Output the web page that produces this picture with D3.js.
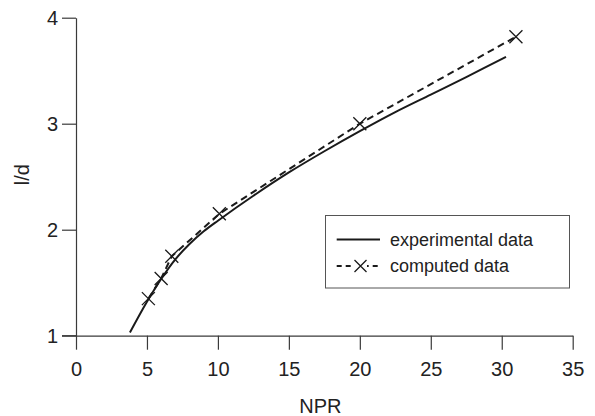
<!DOCTYPE html>
<html>
<head>
<meta charset="utf-8">
<script src="https://cdn.jsdelivr.net/npm/d3@7"></script>
<style>
  html, body { margin: 0; padding: 0; background: #fff; }
  svg { display: block; font-family: "Liberation Sans", Arial, Helvetica, sans-serif; }
</style>
</head>
<body>
<svg id="chart" width="595" height="416"></svg>
<script>
// Measured nozzle length ratio against pressure ratio
const experimentalNPR = [3.8, 5, 6, 7, 8, 9, 10, 12.5, 15, 17.5, 20, 22.5, 25, 27.5, 30.3];
const experimentalLD  = [1.03, 1.32, 1.535, 1.72, 1.865, 1.985, 2.085, 2.32, 2.54, 2.74, 2.93, 3.11, 3.275, 3.44, 3.63];

// Computed points (marked with crosses)
const computedNPR = [5.1, 6.0, 6.75, 10.1, 20.0, 31.0];
const computedLD  = [1.35, 1.54, 1.75, 2.15, 3.0, 3.82];

const xTicks = [0, 5, 10, 15, 20, 25, 30, 35];
const yTicks = [1, 2, 3, 4];
const legendLabels = ["experimental data", "computed data"];

const svg = d3.select("#chart");
const x = d3.scaleLinear().domain([0, 35]).range([76, 572.7]);
const y = d3.scaleLinear().domain([1, 4]).range([335.7, 17.7]);

const axisColor = "#3a3a3a";
const inkColor = "#1a1a1a";
const labelFont = "Liberation Sans, Arial, sans-serif";

// Y axis
const yAxis = svg.append("g")
  .attr("transform", `translate(${x(0)},0)`)
  .call(d3.axisLeft(y).tickValues(yTicks).tickSize(14).tickSizeOuter(0).tickPadding(4).tickFormat(d3.format("d")));
yAxis.select(".domain").attr("stroke", axisColor).attr("stroke-width", 1.2);
yAxis.selectAll(".tick line").attr("stroke", axisColor).attr("stroke-width", 1.2);
yAxis.selectAll(".tick text").attr("font-size", 20).attr("fill", "#222").attr("font-family", labelFont);

// X axis
const xAxis = svg.append("g")
  .attr("transform", `translate(0,${y(1)})`)
  .call(d3.axisBottom(x).tickValues(xTicks).tickSize(14).tickSizeOuter(0).tickPadding(12).tickFormat(d3.format("d")));
xAxis.select(".domain").attr("stroke", axisColor).attr("stroke-width", 1.2);
xAxis.selectAll(".tick line").attr("stroke", axisColor).attr("stroke-width", 1.2);
xAxis.selectAll(".tick text").attr("font-size", 20).attr("fill", "#222").attr("font-family", labelFont);

// X-axis extension to the left where the y=1 tick sits
svg.append("line")
  .attr("x1", x(0) - 14).attr("x2", x(0))
  .attr("y1", y(1)).attr("y2", y(1))
  .attr("stroke", axisColor).attr("stroke-width", 1.2);

// Axis titles
svg.append("text")
  .attr("x", (x(0) + x(35)) / 2 - 4).attr("y", 412.5)
  .attr("text-anchor", "middle").attr("font-size", 20).attr("fill", "#222")
  .text("NPR");
svg.append("text")
  .attr("transform", `translate(29,${y(2.5) - 2}) rotate(-90)`)
  .attr("text-anchor", "middle").attr("font-size", 20).attr("fill", "#222")
  .text("l/d");

// Experimental curve
const expData = experimentalNPR.map((v, i) => [v, experimentalLD[i]]);
svg.append("path")
  .datum(expData)
  .attr("fill", "none").attr("stroke", inkColor).attr("stroke-width", 2)
  .attr("d", d3.line().x(d => x(d[0])).y(d => y(d[1])).curve(d3.curveCatmullRom.alpha(0.5)));

// Computed line
const compData = computedNPR.map((v, i) => [v, computedLD[i]]);
svg.append("path")
  .datum(compData)
  .attr("fill", "none").attr("stroke", inkColor).attr("stroke-width", 2)
  .attr("stroke-dasharray", "7,4.5")
  .attr("d", d3.line().x(d => x(d[0])).y(d => y(d[1])));

// Cross markers
function cross(g, cx, cy, r) {
  g.append("path")
    .attr("d", `M${cx - r},${cy - r}L${cx + r},${cy + r}M${cx - r},${cy + r}L${cx + r},${cy - r}`)
    .attr("stroke", inkColor).attr("stroke-width", 1.3).attr("fill", "none");
}
const markers = svg.append("g");
compData.forEach(d => cross(markers, x(d[0]), y(d[1]), 6.5));

// Legend
const legend = svg.append("g");
legend.append("rect")
  .attr("x", 325.5).attr("y", 215.5).attr("width", 244).attr("height", 72.5)
  .attr("fill", "#fff").attr("stroke", "#555").attr("stroke-width", 1);
legend.append("line")
  .attr("x1", 336.7).attr("x2", 380).attr("y1", 239.5).attr("y2", 239.5)
  .attr("stroke", inkColor).attr("stroke-width", 1.8);
legend.append("line")
  .attr("x1", 336.7).attr("x2", 380).attr("y1", 266).attr("y2", 266)
  .attr("stroke", inkColor).attr("stroke-width", 1.8).attr("stroke-dasharray", "5,4");
legend.append("rect")
  .attr("x", 354).attr("y", 259).attr("width", 13).attr("height", 14).attr("fill", "#fff");
cross(legend, 360.5, 266, 6);
legend.selectAll("text.lg")
  .data(legendLabels)
  .enter().append("text")
  .attr("class", "lg")
  .attr("x", 390).attr("y", (d, i) => 245.5 + i * 26.5)
  .attr("font-size", 18).attr("fill", "#222")
  .text(d => d);
</script>
</body>
</html>
